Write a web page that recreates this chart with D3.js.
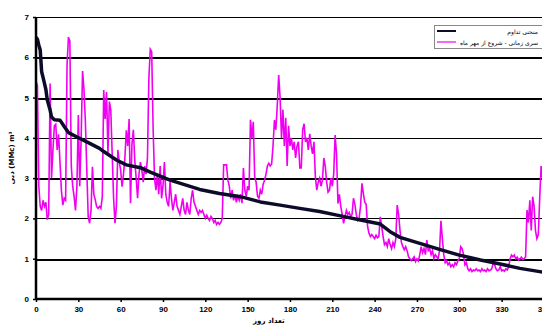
<!DOCTYPE html>
<html>
<head>
<meta charset="utf-8">
<script src="https://cdn.jsdelivr.net/npm/d3@7"></script>
<style>
  html, body { margin: 0; padding: 0; background: #fff; }
  svg { display: block; }
  .tick text { font-family: Arial, "Liberation Sans", sans-serif; font-weight: bold; font-size: 8px; fill: #000; }
</style>
</head>
<body>
<svg id="chart" width="542" height="327"></svg>
<script>
// Daily flow series (day 0 .. 364), starting from the month of Mehr
const seriesValues = [
  5.4, 5.3, 2.8, 2.3, 2.2, 2.45, 2.3, 2.4, 1.97, 2.1,
  5.35, 3.0, 3.7, 4.3, 4.34, 3.7, 4.09, 3.4, 2.7, 2.33,
  2.5, 2.45, 5.8, 6.5, 6.4, 3.3, 2.8, 2.55, 2.2, 2.8,
  4.57, 2.8, 3.99, 5.66, 5.2, 4.4, 3.2, 2.04, 1.88, 2.2,
  3.28, 2.6, 2.46, 2.29, 2.25, 2.3, 2.25, 2.54, 5.19, 4.47,
  5.14, 3.62, 4.9, 4.69, 3.6, 2.5, 1.88, 2.3, 3.7, 3.4,
  3.2, 2.79, 3.1, 3.5, 4.19, 3.8, 4.47, 2.38, 3.84, 4.2,
  3.45, 3.0, 2.5, 3.1, 3.4, 3.2, 2.9, 3.3, 3.1, 3.5,
  5.48, 6.2, 6.14, 4.24, 3.0, 2.7, 3.1, 2.6, 3.3, 2.5,
  2.8, 3.4, 2.6, 2.4, 2.3, 2.9, 2.5, 2.2, 2.4, 2.6,
  2.3, 2.2, 2.1, 2.3, 2.5, 2.2, 2.1, 2.4, 2.2, 2.1,
  2.5, 2.7, 2.4, 2.3, 2.2, 2.1, 2.2, 2.15, 2.2, 2.1,
  2.0, 2.08, 2.0, 1.95, 2.05, 2.0, 1.9, 1.95, 1.85, 1.9,
  1.85, 1.9, 2.0, 3.33, 3.33, 3.33, 2.95, 2.8, 2.5, 2.7,
  2.45, 2.6, 2.4, 2.55, 2.45, 2.6, 2.38, 3.25, 2.7, 2.55,
  2.8, 2.7, 4.45, 4.0, 4.4, 3.03, 2.9, 2.55, 2.5, 2.7,
  2.6, 2.85, 2.95, 3.1, 3.3, 3.37, 3.3, 3.35, 3.8, 4.44,
  4.2, 4.8, 5.56, 5.0, 4.0, 4.7, 3.8, 4.5, 3.3, 4.3,
  3.8, 4.0, 3.7, 3.9, 3.5, 3.8, 3.9, 3.25, 3.25, 4.2,
  4.35, 3.9, 4.0, 3.7, 4.1, 3.8, 3.6, 3.9, 3.03, 2.7,
  2.9, 3.0, 2.8, 2.95, 3.5, 3.3, 2.9, 2.65, 2.7, 3.0,
  2.8, 3.1, 4.07, 3.6, 2.37, 2.6, 2.3, 2.1, 1.88, 2.05,
  2.2, 2.1, 2.15, 2.05, 2.1, 2.5, 2.35, 2.1, 1.95, 2.0,
  2.3, 2.87, 2.62, 2.4, 2.35, 1.8, 1.63, 1.55, 1.6, 1.55,
  1.5, 1.58, 1.52, 1.55, 2.04, 1.8, 1.55, 1.35, 1.4, 1.3,
  1.5, 1.35, 1.25, 1.4, 1.3, 1.5, 2.33, 2.1, 1.7, 1.4,
  1.3, 1.22, 1.3, 1.2, 1.05, 1.0, 0.95, 1.0, 1.05, 0.93,
  1.0, 0.95, 1.1, 1.3, 1.15, 1.25, 1.1, 1.46, 1.2, 1.25,
  1.1, 1.2, 1.0, 1.1, 1.05, 1.0, 1.2, 1.94, 1.5, 1.1,
  0.9, 0.95, 0.85, 0.9, 0.8, 0.85, 0.8, 0.9, 0.85, 0.95,
  1.0, 1.3, 1.25, 1.1, 0.85, 0.9, 0.75, 0.7, 0.75, 0.68,
  0.72, 0.7, 0.75, 0.7, 0.72, 0.68, 0.75, 0.7, 0.72, 0.68,
  0.75, 0.7, 0.72, 0.75, 0.89, 0.85, 0.75, 0.7, 0.72, 0.8,
  0.7, 0.72, 0.69, 0.75, 0.72, 0.8, 1.0, 1.09, 1.05, 1.09,
  1.0, 1.04, 0.97, 1.0, 1.04, 0.98, 1.0, 1.05, 2.21, 1.9,
  2.45, 1.7, 2.54, 2.3, 1.7, 1.5, 1.6, 2.5, 3.3, 3.0,
  2.8, 2.6, 2.4, 2.5, 2.3
];

// Flow duration curve: day rank and flow value
const durationDays = [0, 1, 2, 3, 4, 5, 6, 7, 8, 10, 11, 13, 17, 20, 23, 29, 36, 45, 48, 57,
  64, 74, 81, 95, 116, 130, 145, 159, 173, 187, 201, 215, 230, 244, 251, 258, 272, 286,
  300, 315, 329, 343, 357, 365];
const durationValues = [6.5, 6.45, 6.3, 6.18, 5.64, 5.5, 5.35, 5.2, 4.94, 4.69, 4.52, 4.45, 4.44,
  4.28, 4.13, 4.02, 3.9, 3.74, 3.66, 3.45, 3.33, 3.26, 3.15, 2.95, 2.72, 2.62, 2.54, 2.41,
  2.33, 2.25, 2.17, 2.07, 1.96, 1.86, 1.67, 1.53, 1.38, 1.23, 1.09, 0.97, 0.87, 0.76, 0.68, 0.64];

const xTicks = [0, 30, 60, 90, 120, 150, 180, 210, 240, 270, 300, 330, 360];
const yTicks = [0, 1, 2, 3, 4, 5, 6, 7];

const legendLabels = ["منحنی تداوم", "سری زمانی - شروع از مهر ماه"];
const xTitle = "تعداد روز";
const yTitle = "دبی (MMc) m³";

const svg = d3.select("#chart");
const plotLeft = 36, plotRight = 551, plotTop = 17, plotBottom = 299;

const x = d3.scaleLinear().domain([0, 365]).range([plotLeft, plotRight]);
const y = d3.scaleLinear().domain([0, 7]).range([plotBottom, plotTop]);

svg.append("defs").append("clipPath").attr("id", "plotClip")
  .append("rect").attr("x", plotLeft).attr("y", 0).attr("width", 520).attr("height", plotBottom + 1);

// Horizontal gridlines
svg.append("g").selectAll("line").data(yTicks.filter(d => d > 0)).join("line")
  .attr("x1", plotLeft).attr("x2", 542)
  .attr("y1", d => Math.round(y(d)) + 0.5).attr("y2", d => Math.round(y(d)) + 0.5)
  .attr("stroke", "#000").attr("stroke-width", d => (d === 6 || d === 5 || d === 3 || d === 1) ? 2 : 1)
  .attr("shape-rendering", "crispEdges");

const plot = svg.append("g").attr("clip-path", "url(#plotClip)");

// Daily series
plot.append("path")
  .datum(seriesValues)
  .attr("fill", "none")
  .attr("stroke", "#f000f0")
  .attr("stroke-width", 1.6)
  .attr("d", d3.line().x((d, i) => x(i)).y(d => y(d)));

// Duration curve
plot.append("path")
  .datum(durationDays.map((d, i) => [d, durationValues[i]]))
  .attr("fill", "none")
  .attr("stroke", "#0c0c2a")
  .attr("stroke-width", 3.5)
  .attr("stroke-linejoin", "round")
  .attr("d", d3.line().x(d => x(d[0])).y(d => y(d[1])));

// Axes
const xAxis = svg.append("g").attr("transform", `translate(0,${plotBottom})`)
  .call(d3.axisBottom(x).tickValues(xTicks).tickSize(3).tickPadding(4).tickFormat(d3.format("d")));
xAxis.select(".domain").attr("stroke-width", 2.5).attr("d", `M${plotLeft},0H542`);
xAxis.selectAll(".tick line").attr("stroke-width", 1.5);

const yAxis = svg.append("g").attr("transform", `translate(${plotLeft},0)`)
  .call(d3.axisLeft(y).tickValues(yTicks).tickSize(3).tickPadding(4).tickFormat(d3.format("d")));
yAxis.select(".domain").attr("stroke-width", 2.5).attr("d", `M0,${plotTop}V${plotBottom + 1}`);
yAxis.selectAll(".tick line").attr("stroke-width", 1.5);

// Axis titles
svg.append("text")
  .attr("x", x(165)).attr("y", 323)
  .attr("text-anchor", "middle")
  .attr("font-family", "DejaVu Sans, sans-serif").attr("font-weight", "bold").attr("font-size", 7)
  .text(xTitle);

svg.append("text")
  .attr("transform", `translate(14,${y(3.5)}) rotate(-90)`)
  .attr("text-anchor", "middle")
  .attr("font-family", "DejaVu Sans, sans-serif").attr("font-weight", "bold").attr("font-size", 7)
  .text(yTitle);

// Legend
const legend = svg.append("g");
legend.append("rect")
  .attr("x", 434.5).attr("y", 25.5).attr("width", 120).attr("height", 23)
  .attr("fill", "#fff").attr("stroke", "#888").attr("stroke-width", 1);
const legendColors = ["#0c0c2a", "#f000f0"];
legendLabels.forEach((label, i) => {
  const ly = 31 + i * 11;
  legend.append("line")
    .attr("x1", 437).attr("x2", 456).attr("y1", ly).attr("y2", ly)
    .attr("stroke", legendColors[i]).attr("stroke-width", i === 0 ? 2 : 1.2);
  legend.append("text")
    .attr("x", 538).attr("y", ly + 2.5)
    .attr("text-anchor", "end")
    .attr("font-family", "DejaVu Sans, sans-serif").attr("font-size", 6)
    .text(label);
});
</script>
</body>
</html>
